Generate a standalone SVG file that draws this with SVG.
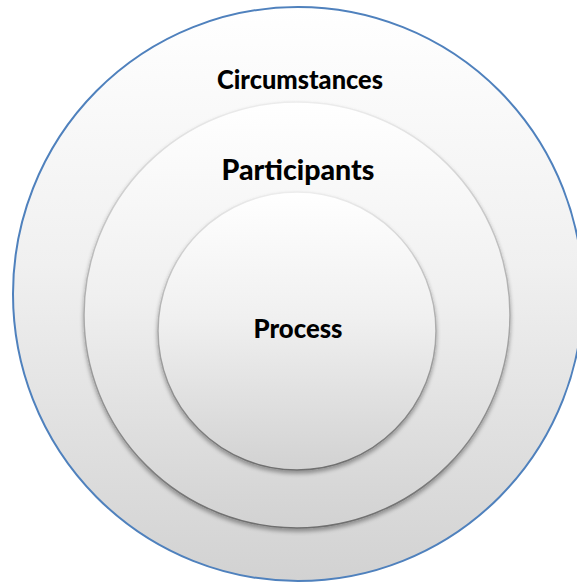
<svg xmlns="http://www.w3.org/2000/svg" width="577" height="583" viewBox="0 0 577 583">
<defs>
<style>
.lbl{font-family:Lato,"Open Sans","Liberation Sans",sans-serif;font-weight:900;fill:#000;text-anchor:middle}
.ring{fill:url(#fillG)}
.inner{stroke:url(#strokeG);stroke-width:1.5;filter:url(#sh)}
</style>
<linearGradient id="fillG" x1="0" y1="0" x2="0" y2="1">
<stop offset="0" stop-color="#ffffff"/>
<stop offset="0.45" stop-color="#f0f0f0"/>
<stop offset="1" stop-color="#d2d2d2"/>
</linearGradient>
<linearGradient id="strokeG" x1="0" y1="0" x2="0" y2="1">
<stop offset="0" stop-color="#ececec"/>
<stop offset="0.45" stop-color="#b0b0b0"/>
<stop offset="1" stop-color="#6e6e6e"/>
</linearGradient>
<filter id="sh" x="-10%" y="-10%" width="120%" height="125%">
<feGaussianBlur in="SourceAlpha" stdDeviation="2.2"/>
<feOffset dy="2.5" result="b"/>
<feComponentTransfer in="b" result="s"><feFuncA type="linear" slope="0.35"/></feComponentTransfer>
<feMerge><feMergeNode in="s"/><feMergeNode in="SourceGraphic"/></feMerge>
</filter>
</defs>
<rect width="577" height="583" fill="#ffffff"/>
<g id="circumstances">
<ellipse class="ring" cx="298" cy="294" rx="285" ry="287" stroke="#4f81bd" stroke-width="2"/>
<text class="lbl" x="300" y="89" font-size="26" textLength="166" lengthAdjust="spacingAndGlyphs">Circumstances</text>
</g>
<g id="participants">
<circle class="ring inner" cx="297" cy="315" r="213"/>
<text class="lbl" x="298" y="180" font-size="28" textLength="153" lengthAdjust="spacingAndGlyphs">Participants</text>
</g>
<g id="process">
<circle class="ring inner" cx="297" cy="331" r="139"/>
<text class="lbl" x="298" y="338" font-size="26" textLength="89" lengthAdjust="spacingAndGlyphs">Process</text>
</g>
<g id="connectors"/>
</svg>
